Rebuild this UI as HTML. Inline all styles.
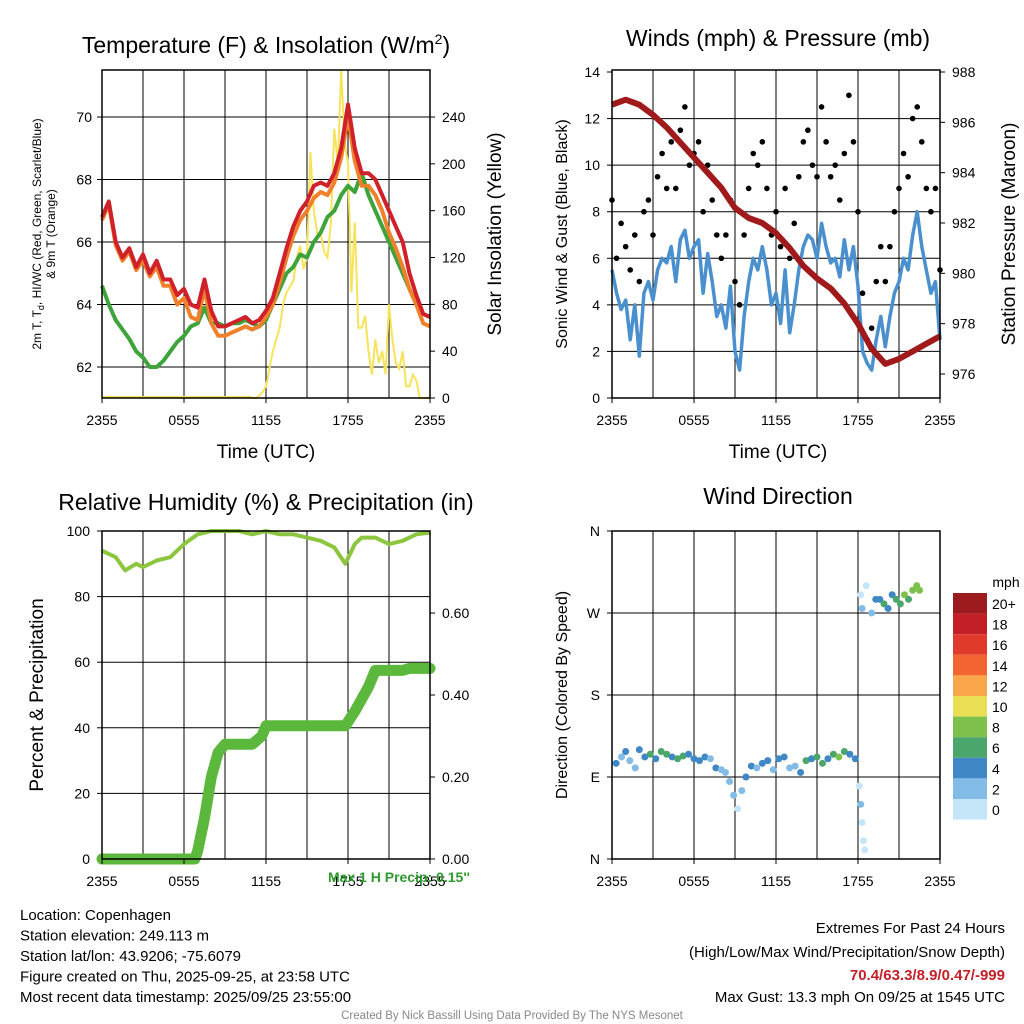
<!DOCTYPE html>
<html><head><meta charset="utf-8"><style>
body{margin:0;background:#fff;}
svg{display:block;font-family:"Liberation Sans",sans-serif;}
</style></head><body>
<svg id="s" width="1024" height="1024" viewBox="0 0 1024 1024"></svg>
<script>
// ---- data ----
const hoursHalf=[];for(let i=0;i<=48;i++)hoursHalf.push(i/2);
const tempRed=[66.8,67.3,66.0,65.5,65.8,65.2,65.6,65.0,65.4,64.8,64.8,64.3,64.5,64.0,63.9,64.8,63.8,63.3,63.3,63.4,63.5,63.6,63.4,63.5,63.8,64.2,65.0,65.8,66.5,67.0,67.3,67.8,67.9,67.8,68.2,69.0,70.4,69.0,68.2,68.2,68.0,67.5,67.0,66.5,66.0,65.0,64.3,63.7,63.6];
const tempOrange=[66.7,67.2,65.9,65.4,65.7,65.1,65.4,64.9,65.2,64.6,64.6,64.0,64.2,63.6,63.5,64.5,63.4,63.0,63.0,63.1,63.2,63.3,63.2,63.3,63.6,64.0,64.7,65.5,66.2,66.7,67.0,67.4,67.6,67.5,67.9,68.7,70.0,68.6,67.8,67.8,67.5,67.0,66.3,65.8,65.2,64.5,64.0,63.4,63.3];
const tempGreen=[64.6,64.0,63.5,63.2,62.9,62.5,62.3,62.0,62.0,62.2,62.5,62.8,63.0,63.3,63.4,63.9,63.4,63.4,63.3,63.4,63.4,63.5,63.4,63.3,63.5,64.0,64.5,65.0,65.2,65.6,65.5,66.0,66.3,66.8,67.0,67.5,67.8,67.6,68.2,67.5,67.0,66.5,66.0,65.5,65.0,64.5,64.0,63.7,63.6];
const insolHours=[];for(let i=0;i<=52;i++)insolHours.push(11+i/4);
const insol=[0,0,2,5,10,25,40,50,60,80,90,95,100,120,130,110,120,210,160,140,140,125,120,150,230,200,280,220,200,90,150,60,60,70,40,20,50,30,40,20,80,50,30,25,40,10,10,20,15,0,0,0,0];
const windHours=[];for(let i=0;i<=72;i++)windHours.push(i/3);
const windSpeed=[5.5,4.5,3.8,4.2,2.5,4.0,1.8,4.5,5.0,4.2,5.5,6.0,5.8,6.5,5.0,6.8,7.2,6.0,6.5,6.8,4.5,6.2,5.0,3.5,4.0,3.0,4.8,2.0,1.2,3.5,5.0,6.0,5.5,6.5,5.5,4.0,4.5,3.2,5.5,2.8,4.0,5.5,6.5,7.0,6.8,6.0,7.5,6.5,5.8,6.0,5.2,6.8,5.5,6.5,4.8,2.0,1.5,1.2,2.5,3.5,2.2,3.5,4.5,5.0,6.0,5.5,7.0,8.0,6.5,5.5,4.5,5.0,2.5];
const windGust=[8.5,6.0,7.5,6.5,5.5,7.0,5.0,8.0,8.5,7.0,9.5,10.5,9.0,11.0,9.0,11.5,12.5,10.0,10.5,11.0,8.0,10.0,8.5,7.0,6.0,7.0,8.5,5.0,4.0,7.0,9.0,10.5,10.0,11.0,9.0,7.0,8.0,6.5,9.0,6.0,7.5,9.5,11.0,11.5,10.0,9.5,12.5,11.0,9.5,10.0,8.5,10.5,13.0,11.0,8.0,4.5,2.5,3.0,5.0,6.5,5.0,6.5,8.0,9.0,10.5,9.5,12.0,12.5,11.0,9.0,8.0,9.0,5.5];
const presHours=[0,1,2,3,4,5,6,7,8,9,10,11,12,13,14,15,16,17,18,19,20,21,22,23,24];
const pressure=[986.7,986.9,986.7,986.3,985.8,985.2,984.6,984.0,983.4,982.6,982.2,982.0,981.6,981.0,980.3,979.8,979.4,978.8,978.0,977.0,976.4,976.6,976.9,977.2,977.5];
const rhHours=[0,1,1.7,2.5,3,4,5,6,7,8,9,10,11,12,13,14,15,16,17,17.8,18.5,19,20,21,22,23,24];
const rh=[94,92,88,90,89,91,92,96,99,100,100,100,99,100,99,99,98,97,95,90,96,98,98,96,97,99,99.5];
const precipHours=[0,6.8,7,7.5,8,8.5,9,11,11.7,12,17.8,18.5,19.5,20,22,22.5,24];
const precip=[0,0,0.02,0.1,0.2,0.26,0.28,0.28,0.3,0.325,0.325,0.36,0.42,0.46,0.46,0.465,0.465];
const dirHours=[0.3,0.7,1.0,1.3,1.7,2.0,2.4,2.8,3.2,3.6,4.0,4.4,4.8,5.2,5.6,6.0,6.4,6.8,7.2,7.6,8.0,8.3,8.6,8.9,9.2,9.5,9.8,10.2,10.6,11.0,11.4,11.8,12.2,12.6,13.0,13.4,13.8,14.2,14.6,15.0,15.4,15.8,16.2,16.6,17.0,17.4,17.8,18.1,18.2,18.3,18.4,18.5,18.2,18.3,18.6,19.0,19.3,19.6,19.9,20.2,20.5,20.8,21.1,21.4,21.7,22.0,22.3,22.5];
const dirDeg=[105,112,118,108,100,120,112,115,110,118,115,112,110,113,115,110,108,112,110,100,98,95,85,70,55,75,90,102,100,105,108,98,110,112,100,102,95,108,110,112,105,110,115,112,118,115,110,80,60,40,20,10,290,275,300,270,285,285,280,275,290,285,280,290,285,295,300,295];
const dirSpeed=[4,3,4,2,3,5,4,6,5,7,6,5,7,6,5,5,4,4,3,4,3,2,3,2,1,2,4,4,3,5,4,3,4,5,3,2,4,6,5,7,6,5,7,8,6,5,4,1,2,1,0.5,0.5,1,2,1,3,4,5,6,5,4,7,6,8,7,8,9,8];
const xTickLabels=["2355","0555","1155","1755","2355"];
const cbLabels=["20+","18","16","14","12","10","8","6","4","2","0"];
const cbColors=["#9b1b1e","#c22026","#e03a2b","#f26530","#f8a649","#e9df55","#7dc14c","#4aa66a","#3f87c5","#82bce6","#c4e6f8"];

const S=document.getElementById('s');const NS="http://www.w3.org/2000/svg";
function mk(tag,attrs,parent){const e=document.createElementNS(NS,tag);for(const k in attrs)e.setAttribute(k,attrs[k]);(parent||S).appendChild(e);return e;}
function txt(x,y,str,size,anchor,extra){const t=mk('text',Object.assign({x:x,y:y,'font-size':size,'text-anchor':anchor||'start',fill:'#000'},extra||{}));t.textContent=str;return t;}
function lin(d0,d1,r0,r1){return v=>r0+(v-d0)/(d1-d0)*(r1-r0);}
function pathD(xs,ys,fx,fy){return xs.map((h,i)=>(i?'L':'M')+fx(h).toFixed(1)+','+fy(ys[i]).toFixed(1)).join('');}

function frame(x0,y0,x1,y1,name){
  const g=mk('g',{});
  
  
  for(let i=1;i<8;i++){const x=x0+(x1-x0)*i/8;mk('line',{x1:x,y1:y0,x2:x,y2:y1,stroke:'#000','stroke-width':1},g);}
  return g;
}
function box(x0,y0,x1,y1){mk('rect',{x:x0,y:y0,width:x1-x0,height:y1-y0,fill:'none',stroke:'#000','stroke-width':1.5});}
function xTicks(x0,x1,y1){
  xTickLabels.forEach((l,i)=>{const x=x0+(x1-x0)*i/4;mk('line',{x1:x,y1:y1,x2:x,y2:y1+5,stroke:'#000'});
    const t=txt(x,y1+27,l,14,'middle');
    
    });
}
function hgrid(x0,x1,y){mk('line',{x1:x0,y1:y,x2:x1,y2:y,stroke:'#000'});}
function ylab(x,y,str,anchor){const t=txt(x,y+5,str,14,anchor);
  
  }

// ===== Panel 1 =====
(function(){const x0=102,x1=430,y0=70,y1=398;
 const fx=lin(0,24,x0,x1),fy=lin(62,70,367,117),fi=lin(0,240,398,117);
 frame(x0,y0,x1,y1,'temperature-grid');
 [62,64,66,68,70].forEach(v=>{hgrid(x0,x1,fy(v));mk('line',{x1:x0-5,y1:fy(v),x2:x0,y2:fy(v),stroke:'#000'});ylab(x0-10,fy(v),String(v),'end');});
 [0,40,80,120,160,200,240].forEach(v=>{mk('line',{x1:x1,y1:fi(v),x2:x1+5,y2:fi(v),stroke:'#000'});ylab(x1+12,fi(v),String(v),'start');});
 const py=mk('path',{d:pathD(insolHours,insol,fx,fi),fill:'none',stroke:'#f7e35a','stroke-width':2});
 
 mk('line',{x1:x0,y1:fi(0)-1,x2:fx(11),y2:fi(0)-1,stroke:'#f7e35a','stroke-width':2});
 const pg=mk('path',{d:pathD(hoursHalf,tempGreen,fx,fy),fill:'none',stroke:'#3ea33a','stroke-width':4,'stroke-linejoin':'round'});
 
 const po=mk('path',{d:pathD(hoursHalf,tempOrange,fx,fy),fill:'none',stroke:'#f0802a','stroke-width':4,'stroke-linejoin':'round'});
 
 const pr=mk('path',{d:pathD(hoursHalf,tempRed,fx,fy),fill:'none',stroke:'#d0212a','stroke-width':4,'stroke-linejoin':'round'});
 
 box(x0,y0,x1,y1);xTicks(x0,x1,y1);
 const t=txt(266,53,'Temperature (F) & Insolation (W/m',23,'middle');const sp=mk('tspan',{dy:-9,'font-size':14},t);sp.textContent='2';const sp2=mk('tspan',{dy:9},t);sp2.textContent=')';
 
 const xt=txt(266,458,'Time (UTC)',19,'middle');
 const l1=txt(0,0,'2m T, T',12,'middle',{transform:'translate(41,234) rotate(-90)'});const sb=mk('tspan',{dy:3,'font-size':9},l1);sb.textContent='d';const rest=mk('tspan',{dy:-3},l1);rest.textContent=', HI/WC (Red, Green, Scarlet/Blue)';
 
 const l2=txt(0,0,'& 9m T (Orange)',12,'middle',{transform:'translate(55,234) rotate(-90)'});
 
 const r=txt(0,0,'Solar Insolation (Yellow)',19,'middle',{transform:'translate(501,234) rotate(-90)'});
 
})();

// ===== Panel 2 =====
(function(){const x0=612,x1=940,y0=70,y1=398;
 const fx=lin(0,24,x0,x1),fy=lin(0,14,398,72),fp=lin(976,988,374,72);
 frame(x0,y0,x1,y1,'wind-grid');
 [0,2,4,6,8,10,12,14].forEach(v=>{if(v>0&&v<14)hgrid(x0,x1,fy(v));mk('line',{x1:x0-5,y1:fy(v),x2:x0,y2:fy(v),stroke:'#000'});ylab(x0-12,fy(v),String(v),'end');});
 [976,978,980,982,984,986,988].forEach(v=>{mk('line',{x1:x1,y1:fp(v),x2:x1+5,y2:fp(v),stroke:'#000'});ylab(x1+12,fp(v),String(v),'start');});
 const pb=mk('path',{d:pathD(windHours,windSpeed,fx,fy),fill:'none',stroke:'#4a90cf','stroke-width':3.5,'stroke-linejoin':'round'});
 
 windGust.forEach((g,i)=>{const c=mk('circle',{cx:fx(windHours[i]),cy:fy(g),r:2.8,fill:'#000'});
  
  });
 const pp=mk('path',{d:pathD(presHours,pressure,fx,fp),fill:'none',stroke:'#a01a1c','stroke-width':6,'stroke-linejoin':'round'});
 
 box(x0,y0,x1,y1);xTicks(x0,x1,y1);
 const t=txt(778,46,'Winds (mph) & Pressure (mb)',23,'middle');
 const xt=txt(778,458,'Time (UTC)',19,'middle');
 const l=txt(0,0,'Sonic Wind & Gust (Blue, Black)',16,'middle',{transform:'translate(567,234) rotate(-90)'});
 const r=txt(0,0,'Station Pressure (Maroon)',19,'middle',{transform:'translate(1015,234) rotate(-90)'});
})();

// ===== Panel 3 =====
(function(){const x0=102,x1=430,y0=531,y1=859;
 const fx=lin(0,24,x0,x1),fy=lin(0,100,859,531),fq=lin(0,0.8,859,531);
 frame(x0,y0,x1,y1,'humidity-grid');
 [0,20,40,60,80,100].forEach(v=>{if(v>0&&v<100)hgrid(x0,x1,fy(v));mk('line',{x1:x0-5,y1:fy(v),x2:x0,y2:fy(v),stroke:'#000'});ylab(x0-12,fy(v),String(v),'end');});
 [0,0.2,0.4,0.6].forEach(v=>{mk('line',{x1:x1,y1:fq(v),x2:x1+5,y2:fq(v),stroke:'#000'});ylab(x1+12,fq(v),v.toFixed(2),'start');});
 const pr=mk('path',{d:pathD(rhHours,rh,fx,fy),fill:'none',stroke:'#8cc63f','stroke-width':4,'stroke-linejoin':'round'});
 
 const pq=mk('path',{d:pathD(precipHours,precip,fx,fq),fill:'none',stroke:'#5cb83c','stroke-width':11,'stroke-linejoin':'round','stroke-linecap':'round'});
 
 box(x0,y0,x1,y1);xTicks(x0,x1,y1);
 const t=txt(266,510,'Relative Humidity (%) & Precipitation (in)',23,'middle');
 const l=txt(0,0,'Percent & Precipitation',19,'middle',{transform:'translate(43,695) rotate(-90)'});
 const m=txt(470,882,"Max 1 H Precip: 0.15''",14,'end',{fill:'#2e9b2e','font-weight':'bold'});
})();

// ===== Panel 4 =====
(function(){const x0=612,x1=940,y0=531,y1=859;
 const fx=lin(0,24,x0,x1),fd=lin(0,360,859,531);
 frame(x0,y0,x1,y1,'direction-grid');
 [[0,'N'],[90,'E'],[180,'S'],[270,'W'],[360,'N']].forEach(([v,l])=>{if(v>0&&v<360)hgrid(x0,x1,fd(v));mk('line',{x1:x0-5,y1:fd(v),x2:x0,y2:fd(v),stroke:'#000'});ylab(x0-12,fd(v),l,'end');});
 function col(s){let k=Math.min(10,Math.floor(s/2));return cbColors[10-k];}
 dirDeg.forEach((d,i)=>{const c=mk('circle',{cx:fx(dirHours[i]),cy:fd(d),r:3.5,fill:col(dirSpeed[i])});
  
  });
 box(x0,y0,x1,y1);xTicks(x0,x1,y1);
 const t=txt(778,504,'Wind Direction',23,'middle');
 const l=txt(0,0,'Direction (Colored By Speed)',16,'middle',{transform:'translate(567,695) rotate(-90)'});
 const u=txt(1006,587,'mph',14,'middle');
 cbColors.forEach((c,i)=>{const r=mk('rect',{x:953,y:593+i*20.6,width:34,height:20.6,fill:c});
  
  
  const tl=txt(992,609+i*20.6,cbLabels[i],14,'start');
  
  });
})();

// ===== footer =====
["Location: Copenhagen","Station elevation: 249.113 m","Station lat/lon: 43.9206; -75.6079","Figure created on Thu, 2025-09-25, at 23:58 UTC","Most recent data timestamp: 2025/09/25 23:55:00"].forEach((s,i)=>{const t=txt(20,920+i*20.5,s,15,'start');});
let e=txt(1005,933,'Extremes For Past 24 Hours',15,'end');
e=txt(1005,957,'(High/Low/Max Wind/Precipitation/Snow Depth)',15,'end');
e=txt(1005,980,'70.4/63.3/8.9/0.47/-999',15,'end',{fill:'#c4202a','font-weight':'bold'});
e=txt(1005,1002,'Max Gust: 13.3 mph On 09/25 at 1545 UTC',15,'end');
e=txt(512,1019,'Created By Nick Bassill Using Data Provided By The NYS Mesonet',11.5,'middle',{fill:'#888'});
</script>
</body></html>
